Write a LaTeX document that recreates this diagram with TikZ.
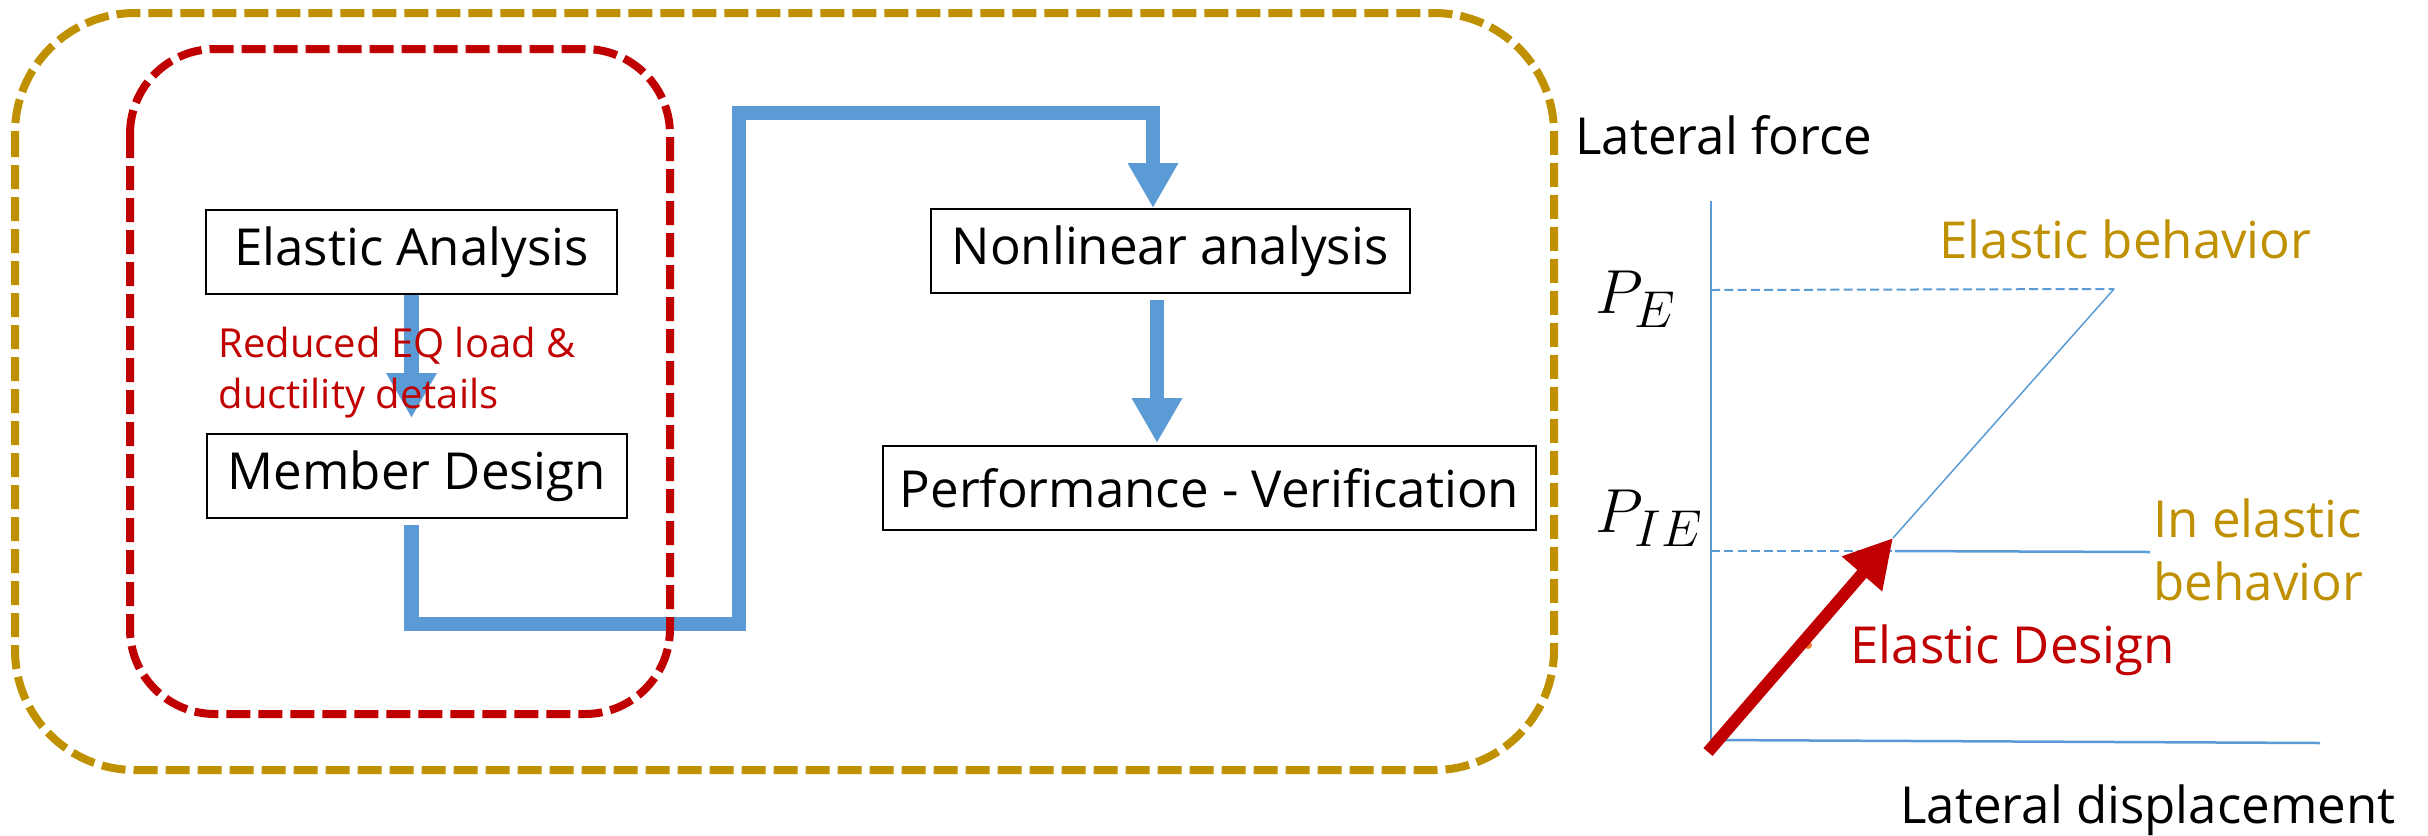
\documentclass[tikz,border=0pt]{standalone}
\usepackage{fontspec}
\setmainfont{Open Sans}
\usetikzlibrary{arrows.meta,positioning}

\definecolor{flowblue}{HTML}{5B9BD5}
\definecolor{designred}{HTML}{C00000}
\definecolor{behgold}{HTML}{BF9000}
\definecolor{dotorange}{HTML}{ED7D31}

\begin{document}
\begin{tikzpicture}[x=0.4pt,y=-0.4pt,
    stepbox/.style={draw,line width=0.8pt,inner sep=0pt,minimum height=33.6pt,
        font=\fontsize{20.4}{24}\selectfont},
    bigtext/.style={inner sep=0pt,anchor=base west,
        font=\fontsize{20.4}{25.2}\selectfont},
    flow/.style={flowblue,line width=5.8pt},
    flowarrow/.style={flow,-{Triangle[width=19pt,length=18pt]}},
    axis/.style={flowblue,line width=1pt},
    guide/.style={flowblue,line width=0.8pt,dash pattern=on 3.6pt off 1.7pt},
    frame/.style={line width=3.2pt,dash pattern=on 9.6pt off 3.2pt}]

\useasboundingbox (0,0) rectangle (2428,835);

% design steps
\node[stepbox,minimum width=164.4pt]
      (elastic) at (411.5,252) {Elastic Analysis};

\node[stepbox,minimum width=168pt,
      below=55.2pt of elastic,xshift=2.2pt]
      (member) {Member Design};

\node[stepbox,minimum width=191.6pt]
      (nonlin) at (1170,251) {Nonlinear analysis};

\node[stepbox,minimum width=261.2pt,
      below=60.4pt of nonlin,xshift=15.8pt]
      (perf) {Performance - Verification};

% blue flow lines
\coordinate (low) at (739,624);
\coordinate (high) at (739,113);

\draw[flowarrow,shorten >=6pt]
      (elastic.south) -- (elastic.south |- member.north);

\draw[flowarrow,line join=miter]
      ([yshift=-2.4pt]elastic.south |- member.south) |- (low)
      -- (high) -| ([xshift=-6.8pt]nonlin.north);

\draw[flowarrow,shorten >=0.8pt]
      ([xshift=-5.2pt,yshift=-2.4pt]nonlin.south)
      -- ([xshift=-5.2pt]nonlin.south |- perf.north);

% base of a two-line node sits on its last line
\node[inner sep=0pt,anchor=base west,align=left,text=designred,
      font=\fontsize{16}{20.4}\selectfont]
      (reduced) at (218,408) {Reduced EQ load \&\\ductility details};

% dashed enclosures
\draw[frame,behgold,rounded corners=48pt] (15,13) rectangle (1554,770);
\draw[frame,designred,rounded corners=34pt] (130,49) rectangle (670,714);

% force - displacement sketch
\coordinate (O) at (1711,740);
\coordinate (ytop) at (1711,201);
\coordinate (xend) at (2320,743);
\coordinate (yE) at (1711,290);
\coordinate (peakE) at (2114,289);
\coordinate (yIE) at (1711,551);
\coordinate (yield) at (1895,551);
\coordinate (plat) at (2150,552);
\coordinate (tail) at (1708,752);
\coordinate (tip) at (1893,538);

\draw[axis] (ytop) -- (O);
\draw[axis] (O) -- (xend);
\draw[guide] (yE) -- (peakE);
\draw[guide] (yIE) -- (yield);
\draw[axis,line width=0.6pt] (tip) -- (peakE);
\draw[axis] (yield) -- (plat);

\fill[dotorange] (1808,645) circle (1.6pt);
\draw[designred,line width=4.8pt,-{Triangle[width=20pt,length=19pt]}]
      (tail) -- (tip);

\node[bigtext] (force) at (1575,154) {Lateral force};
\node[bigtext] (disp) at (1900,823) {Lateral displacement};
\node[bigtext,text=behgold] (elbeh) at (1939,258) {Elastic behavior};
\node[bigtext,text=behgold,align=left]
      (inelbeh) at (2153,600) {In elastic\\behavior};
\node[bigtext,text=designred] (eldes) at (1850,663) {Elastic Design};

\node[inner sep=0pt,anchor=base west,font=\fontsize{28}{30}\selectfont]
      (pE) at (1595,313) {$P_E$};
\node[inner sep=0pt,anchor=base west,font=\fontsize{28}{30}\selectfont]
      (pIE) at (1595,532) {$P_{IE}$};

\end{tikzpicture}
\end{document}
